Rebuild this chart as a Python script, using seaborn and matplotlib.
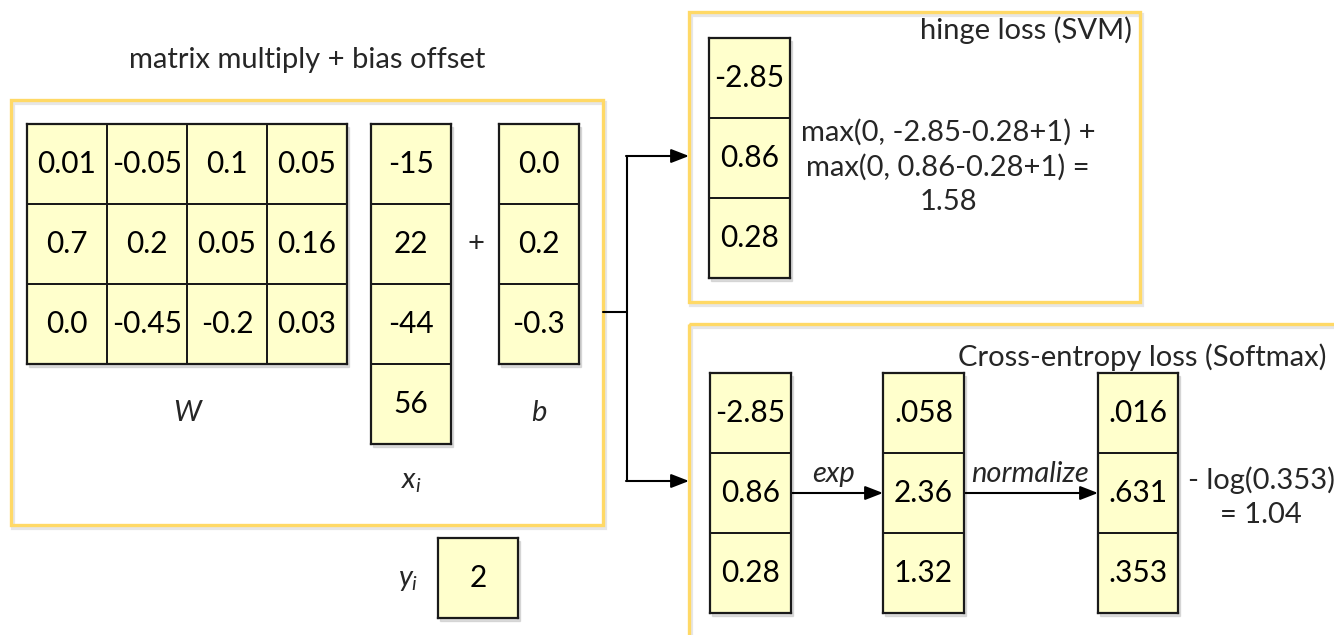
import numpy as np
import matplotlib
matplotlib.use('Agg')
import matplotlib.pyplot as plt
import seaborn as sns
from matplotlib.colors import ListedColormap
from matplotlib.patches import Rectangle

# --- Du lieu cua so do ---
W_vals = [[0.01, -0.05, 0.1, 0.05],
          [0.7, 0.2, 0.05, 0.16],
          [0.0, -0.45, -0.2, 0.03]]
x_vals = [-15, 22, -44, 56]
b_vals = [0.0, 0.2, -0.3]
y_val = [2]
scores = [-2.85, 0.86, 0.28]
exp_scores = [0.058, 2.36, 1.32]
probs = [0.016, 0.631, 0.353]

title_main = 'matrix multiply + bias offset'
title_svm = 'hinge loss (SVM)'
title_soft = 'Cross-entropy loss (Softmax)'
svm_text = 'max(0, -2.85-0.28+1) +\nmax(0, 0.86-0.28+1) =\n1.58'
soft_text = '- log(0.353)\n= 1.04'

sns.set_theme(style='white')
plt.rcParams['font.family'] = ['Lato', 'DejaVu Sans']
plt.rcParams['mathtext.fontset'] = 'custom'
plt.rcParams['mathtext.it'] = 'Lato:italic'
plt.rcParams['mathtext.rm'] = 'Lato'

FW, FH = 1334, 635
CELL = '#FFFFCC'
EDGE = '#1a1a1a'
GOLD = '#FFD966'
FS = 21

fig = plt.figure(figsize=(FW / 100, FH / 100), dpi=100)
bg = fig.add_axes([0, 0, 1, 1])
bg.set_xlim(0, FW)
bg.set_ylim(FH, 0)
bg.axis('off')


def fmt_plain(v):
    return str(v)


def fmt_short(v):
    return f'{v:.3f}'[1:] if abs(v) < 1 else f'{v:.2f}'


def draw_cells(vals, x, y, w, h, fmt=fmt_plain):
    arr = np.atleast_2d(np.array(vals, dtype=float))
    if arr.shape[0] == 1 and arr.shape[1] > 1 and w < h:
        arr = arr.T
    labels = np.vectorize(fmt, otypes=[str])(np.array(vals).reshape(arr.shape))
    # bong mo nhe
    bg.add_patch(Rectangle((x + 2, y + 3), w, h, color='#bdbdbd', alpha=0.5, zorder=1))
    ax = fig.add_axes([x / FW, 1 - (y + h) / FH, w / FW, h / FH])
    sns.heatmap(arr, ax=ax, cmap=ListedColormap([CELL]), cbar=False,
                annot=labels, fmt='', annot_kws={'color': 'black', 'fontsize': FS + 0.5},
                linewidths=1.3, linecolor=EDGE, xticklabels=False, yticklabels=False)
    for s in ax.spines.values():
        s.set_visible(True)
        s.set_color(EDGE)
        s.set_linewidth(1.6)
    return ax


# khung vien vang
for (bx, by, bw, bh) in [(11, 100, 592, 425), (689, 12, 451, 290), (689, 324, 700, 400)]:
    bg.add_patch(Rectangle((bx + 2, by + 3), bw, bh, fill=False, ec='#e6e6e6', lw=3, zorder=1))
    bg.add_patch(Rectangle((bx, by), bw, bh, fill=False, ec=GOLD, lw=2.4, zorder=2))

bg.text(307, 60, title_main, ha='center', va='center', fontsize=FS)

draw_cells(W_vals, 27, 124, 320, 240)
draw_cells(x_vals, 371, 124, 80, 320)
draw_cells(b_vals, 499, 124, 80, 240)
draw_cells(y_val, 438, 538, 80, 80)

bg.text(476, 244, '+', ha='center', va='center', fontsize=FS)
bg.text(188, 413, '$W$', ha='center', va='center', fontsize=FS)
bg.text(539, 413, '$b$', ha='center', va='center', fontsize=FS)
bg.text(411, 482, '$x_i$', ha='center', va='center', fontsize=FS)
bg.text(408, 580, '$y_i$', ha='center', va='center', fontsize=FS)

# duong noi va mui ten
bg.plot([603, 627], [312, 312], color='black', lw=1.5)
bg.plot([627, 627], [156, 481], color='black', lw=1.5)
arrow = dict(arrowstyle='-|>,head_length=0.9,head_width=0.35', color='black', lw=1.5,
             shrinkA=0, shrinkB=0)
bg.annotate('', xy=(689, 156), xytext=(626, 156), arrowprops=arrow)
bg.annotate('', xy=(689, 481), xytext=(626, 481), arrowprops=arrow)

# hinge loss
bg.text(1132, 30, title_svm, ha='right', va='center', fontsize=FS)
draw_cells(scores, 709, 38, 81, 240)
bg.text(948, 167, svm_text, ha='center', va='center', fontsize=FS, linespacing=1.4)

# softmax
bg.text(1326, 357, title_soft, ha='right', va='center', fontsize=FS)
draw_cells(scores, 710, 373, 81, 240)
draw_cells(exp_scores, 883, 373, 81, 240, fmt_short)
draw_cells(probs, 1098, 373, 80, 240, fmt_short)
bg.annotate('', xy=(883, 493), xytext=(791, 493), arrowprops=arrow)
bg.annotate('', xy=(1098, 493), xytext=(964, 493), arrowprops=arrow)
bg.text(834, 474, 'exp', ha='center', va='center', fontsize=FS, style='italic')
bg.text(1030, 474, 'normalize', ha='center', va='center', fontsize=FS, style='italic')
bg.text(1261, 497, soft_text, ha='center', va='center', fontsize=FS, linespacing=1.4)

fig.savefig('out.png', dpi=100)
plt.close(fig)
